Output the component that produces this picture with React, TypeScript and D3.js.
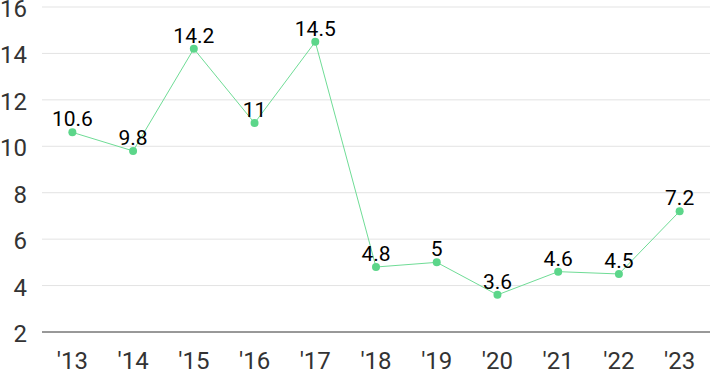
import React from "react";
import * as d3 from "d3";

const years = ["'13", "'14", "'15", "'16", "'17", "'18", "'19", "'20", "'21", "'22", "'23"];
const values = [10.6, 9.8, 14.2, 11, 14.5, 4.8, 5, 3.6, 4.6, 4.5, 7.2];
const yTicks = [2, 4, 6, 8, 10, 12, 14, 16];

const W = 710;
const H = 371;
const left = 42;
const top = 7;
const bottom = 332;

export default function App() {
  const x = d3.scalePoint<string>().domain(years).range([left, W]).padding(0.5);
  const y = d3.scaleLinear().domain([2, 16]).range([bottom, top]);
  const line = d3
    .line<number>()
    .x((_, i) => x(years[i]) as number)
    .y((d) => y(d));
  const font = "Roboto, 'Noto Sans', sans-serif";
  return (
    <svg width={W} height={H} style={{ position: "absolute", left: 0, top: 0, background: "#fff" }}>
      {yTicks.map((t) => (
        <g key={t}>
          {t !== 2 && (
            <line x1={left} x2={W} y1={y(t)} y2={y(t)} stroke="#e3e3e3" strokeWidth={1} />
          )}
          <text
            x={27}
            y={y(t) + 10}
            textAnchor="end"
            fontFamily={font}
            fontSize={24}
            fill="#333"
          >
            {t}
          </text>
        </g>
      ))}
      <line x1={left} x2={W} y1={bottom} y2={bottom} stroke="#333" strokeWidth={1} />
      {years.map((yr) => (
        <text
          key={yr}
          x={x(yr) as number}
          y={369}
          textAnchor="middle"
          fontFamily={font}
          fontSize={24}
          fill="#333"
        >
          {yr}
        </text>
      ))}
      <path d={line(values) || ""} fill="none" stroke="#6fdc96" strokeWidth={1} />
      {values.map((v, i) => (
        <g key={i}>
          <circle cx={x(years[i]) as number} cy={y(v)} r={4} fill="#5cd68a" />
          <text
            x={x(years[i]) as number}
            y={y(v) - 6}
            textAnchor="middle"
            fontFamily={font}
            fontSize={21}
            fill="#000"
          >
            {v}
          </text>
        </g>
      ))}
    </svg>
  );
}
